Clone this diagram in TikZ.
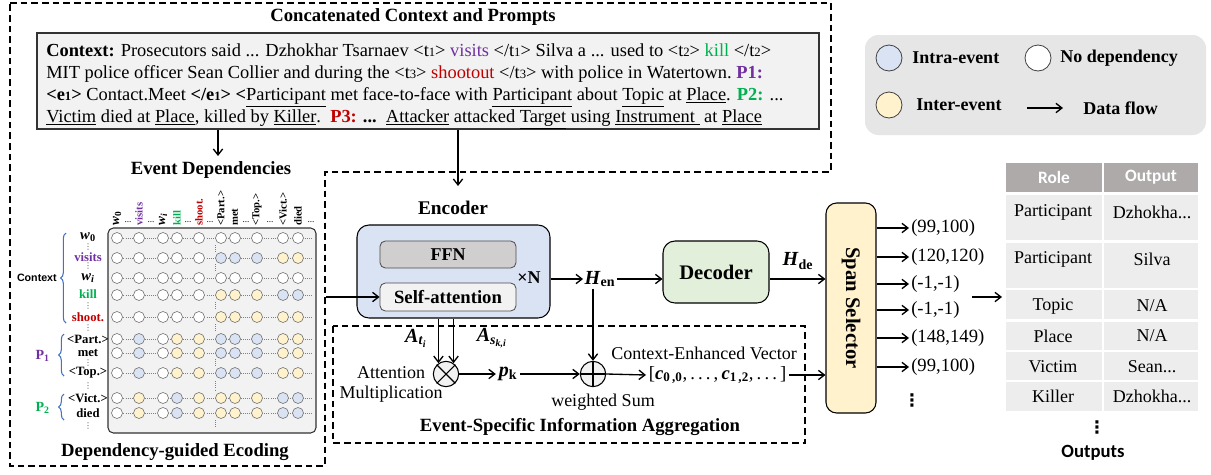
\documentclass[tikz,border=0pt]{standalone}
\usepackage{fontspec}
\setmainfont{Liberation Serif}
\newfontfamily\calib{Carlito}
\newfontfamily\arialf{Liberation Sans}
\newfontfamily\dejavu{DejaVu Sans}
\usetikzlibrary{arrows.meta,decorations.pathreplacing,calc}
\definecolor{cpurple}{HTML}{7030A0}
\definecolor{cgreen}{HTML}{00B050}
\definecolor{cred}{HTML}{C00000}
\definecolor{cbrace}{HTML}{4472C4}
\definecolor{cw}{HTML}{FFFFFF}
\definecolor{cb}{HTML}{DAE3F3}
\definecolor{cy}{HTML}{FFF2CC}
\definecolor{boxgray}{HTML}{F2F2F2}
\definecolor{leggray}{HTML}{E7E6E6}
\definecolor{ffngray}{HTML}{D0CECE}
\definecolor{encblue}{HTML}{DAE3F3}
\definecolor{decgreen}{HTML}{E2EFDA}
\definecolor{spanyel}{HTML}{FFF2CC}
\definecolor{thead}{HTML}{AEAAAA}
\definecolor{tcell}{HTML}{EDEDED}
\newcommand\fsz[1]{\fontsize{#1}{#1}\selectfont}
\newcommand\tg[2]{<#1{\fsz{9.5pt}#2}>}
\newcommand\bvar[2]{\textbf{\textit{#1}}\textsubscript{\textbf{#2}}}
\newcommand\tdots{...}
\newcommand\myvdots{{\dejavu ⋮}}
\begin{document}
\begin{tikzpicture}[x=0.75pt,y=-0.75pt,
  >={Straight Barb[length=4.5pt,width=7pt]},
  arr/.style={->,line width=1pt},
  dashbox/.style={dash pattern=on 5pt off 3pt,line width=1pt},
  dot/.style={circle,draw=black!55,line width=0.45pt,minimum size=8.25pt,inner sep=0pt},
  lgc/.style={circle,draw=black!75,line width=0.6pt,minimum size=19.5pt,inner sep=0pt},
  ttl/.style={inner sep=0pt,font=\bfseries\fsz{14pt}},
  ctxline/.style={anchor=base west,inner sep=0pt,font=\fsz{13.8pt}},
  coll/.style={rotate=90,anchor=west,inner sep=0pt,font=\bfseries\fsz{8pt}},
  rowl/.style={inner sep=0pt,font=\bfseries\fsz{9.5pt}},
  vd/.style={inner sep=0pt,font=\fsz{6pt},text=black!70},
  hd/.style={inner sep=0pt,font=\fsz{7pt}},
  brc/.style={decorate,decoration={brace,amplitude=4pt},draw=cbrace,line width=0.8pt},
  lgt/.style={anchor=west,inner sep=0pt,font=\bfseries\fsz{13.5pt}},
  outn/.style={anchor=west,inner sep=1.5pt,font=\fsz{14pt}},
  cell/.style={fill=tcell,inner sep=0pt},
  hcell/.style={fill=thead,inner sep=0pt,text=white,font=\calib\bfseries\fsz{13pt}},
  tt/.style={inner sep=0pt,font=\fsz{13.5pt}},
  opc/.style={circle,draw=black,line width=0.8pt,fill=boxgray,minimum size=19pt,inner sep=0pt}
]
\useasboundingbox (0,0) rectangle (1211,475);

% ---------- outer dashed outline ----------
\draw[dashbox] (10,3) -- (831,3) -- (831,172) -- (325,172) -- (325,466) -- (10,466) -- cycle;

% ---------- context box ----------
\node[ttl] (t1) at (413,17) {Concatenated Context and Prompts};
\node[draw=black!80,line width=0.8pt,fill=boxgray,minimum width=586.5pt,minimum height=72pt,inner sep=0pt] (ctx) at (428,81) {};
\node[ctxline] (l1) at (46,56) {\textbf{Context:} Prosecutors said ... Dzhokhar Tsarnaev \tg{t}{1} \textcolor{cpurple}{visits} \tg{/t}{1} Silva a ... used to \tg{t}{2} \textcolor{cgreen}{kill} \tg{/t}{2}};
\node[ctxline] (l2) at (46,78) {MIT police officer Sean Collier and during the \tg{t}{3} \textcolor{cred}{shootout} \tg{/t}{3} with police in Watertown.\ \textcolor{cpurple}{\textbf{P1:}}};
\node[ctxline] (l3) at (46,100) {\textbf{\tg{e}{1}} Contact.Meet \textbf{\tg{/e}{1}} \textbf{<}\underline{Participant} met face-to-face with \underline{Participant} about \underline{Topic} at \underline{Place}. \textcolor{cgreen}{\textbf{P2:}} ...};
\node[ctxline] (l4) at (46,122) {\underline{Victim} died at \underline{Place}, killed by \underline{Killer}.\ \ \textcolor{cred}{\textbf{P3:}} \textbf{...}\ \ \underline{Attacker} attacked \underline{Target} using \underline{Instrument\ } at \underline{Place}};

\coordinate (c1) at (218,156);
\coordinate (c2) at (458,186);
\draw[arr] (ctx.south -| c1) -- (c1);
\draw[arr] (ctx.south -| c2) -- (c2);

% ---------- legend ----------
\node[fill=leggray,rounded corners=10pt,minimum width=255.75pt,minimum height=75pt,inner sep=0pt] (leg) at (1035.5,85) {};
\node[lgc,fill=cb] (lg1) at (889,58) {};
\node[lgt] (lg1t) at (912,58) {Intra-event};
\node[lgc,fill=cw] (lg2) at (1038,58) {};
\node[lgt] (lg2t) at (1060,58) {No dependency};
\node[lgc,fill=cy] (lg3) at (889,105) {};
\node[lgt] (lg3t) at (916,105) {Inter-event};
\coordinate (la) at (1027,108);
\coordinate (lb) at (1063,108);
\draw[arr] (la) -- (lb);
\node[lgt] (lg4t) at (1083,108) {Data flow};

% ---------- event dependencies ----------
\node[ttl] (t2) at (211,170) {Event Dependencies};
\node[ttl] (t3) at (175,452) {Dependency-guided Ecoding};
\node[draw=black!80,line width=0.8pt,fill=boxgray,rounded corners=4pt,minimum width=156pt,minimum height=153.75pt,inner sep=0pt] (mat) at (212,330.5) {};

% column labels
\node[coll,font=\bfseries\fsz{10pt}] (cl1) at (117,226) {\textit{w}\textsubscript{0}};
\node[coll,text=cpurple] (cl2) at (139,226) {visits};
\node[coll,font=\bfseries\fsz{10pt}] (cl3) at (163,226) {\textit{w}\textsubscript{\textit{i}}};
\node[coll,text=cgreen] (cl4) at (177,226) {kill};
\node[coll,text=cred] (cl5) at (199,226) {shoot.};
\node[coll] (cl6) at (221,226) {<Part.>};
\node[coll] (cl7) at (235,226) {met};
\node[coll] (cl8) at (257,226) {<Top.>};
\node[coll] (cl9) at (283,226) {<Vict.>};
\node[coll] (cl10) at (298,226) {died};
\foreach \xx [count=\k] in {128,151,188,210,246,270,311}
  \node[hd] (hd\k) at (\xx,222) {\tdots};

% row labels
\node[rowl,font=\bfseries\fsz{11pt}] (rl1) at (88,237) {\textit{w}\textsubscript{0}};
\node[rowl,text=cpurple] (rl2) at (88,257) {visits};
\node[rowl,font=\bfseries\fsz{11pt}] (rl3) at (88,278) {\textit{w}\textsubscript{\textit{i}}};
\node[rowl,text=cgreen] (rl4) at (88,294) {kill};
\node[rowl,text=cred] (rl5) at (88,317) {shoot.};
\node[rowl] (rl6) at (88,339) {<Part.>};
\node[rowl] (rl7) at (88,353) {met};
\node[rowl] (rl8) at (88,373) {<Top.>};
\node[rowl] (rl9) at (88,398) {<Vict.>};
\node[rowl] (rl10) at (88,413) {died};
\foreach \yy [count=\k] in {247,266,306,328,363,386,426}
  \node[vd] (rv\k) at (88,\yy) {\myvdots};

% braces
\draw[brc] (66,323) -- (66,233);
\node[anchor=east,inner sep=0pt,font=\arialf\bfseries\fsz{8pt}] (bctx) at (57,278) {Context};
\draw[brc] (64,376) -- (64,334);
\node[anchor=east,inner sep=0pt,font=\bfseries\fsz{10.5pt},text=cpurple] (bp1) at (50,356) {P\textsubscript{1}};
\draw[brc] (64,420) -- (64,394);
\node[anchor=east,inner sep=0pt,font=\bfseries\fsz{10.5pt},text=cgreen] (bp2) at (50,408) {P\textsubscript{2}};

% separator
\foreach \ya/\yb in {245/252,264/272,302/310,324/332,359/367,381/391,420/428}
  \draw[densely dotted,black!50,line width=0.6pt] (215,\ya) -- (215,\yb);

% circles
\foreach \yy/\pat [count=\r] in {
 238/{cw,cw,cw,cw,cw,cw,cw,cw,cw,cw},
 258/{cw,cw,cw,cw,cw,cb,cb,cb,cy,cy},
 278/{cw,cw,cw,cw,cw,cw,cw,cw,cw,cw},
 295/{cw,cw,cw,cw,cw,cy,cy,cy,cb,cb},
 317/{cw,cw,cw,cw,cw,cy,cy,cy,cy,cy},
 339/{cw,cb,cw,cy,cy,cb,cb,cb,cy,cy},
 353/{cw,cb,cw,cy,cy,cb,cb,cb,cy,cy},
 373/{cw,cb,cw,cy,cy,cb,cb,cb,cy,cy},
 398/{cw,cy,cw,cb,cy,cy,cy,cy,cb,cb},
 413/{cw,cy,cw,cb,cy,cy,cy,cy,cb,cb}}
{
  \draw[densely dotted,black!50,line width=0.6pt] (117,\yy) -- (313,\yy);
  \foreach \cc [count=\k] in \pat {
    \pgfmathsetmacro\xx{{117,139,163,177,199,221,235,257,283,298}[\k-1]}
    \node[dot,fill=\cc] (m\r-\k) at (\xx,\yy) {};
  }
}

% ---------- encoder ----------
\node[font=\bfseries\fsz{14.5pt},inner sep=0pt] (t4) at (453,208) {Encoder};
\node[draw=black,line width=0.8pt,fill=encblue,rounded corners=9pt,minimum width=144.75pt,minimum height=69.75pt,inner sep=0pt] (enc) at (453.5,271.5) {};
\node[draw=black!70,line width=0.6pt,fill=ffngray,rounded corners=4pt,minimum width=102pt,minimum height=20.25pt,inner sep=0pt,font=\bfseries\fsz{13.5pt}] (ffn) at (448,254.5) {FFN};
\node[draw=black!70,line width=0.6pt,fill=boxgray,rounded corners=4pt,minimum width=102pt,minimum height=21pt,inner sep=0pt,font=\bfseries\fsz{14pt}] (sa) at (448,297) {Self-attention};
\node[inner sep=0pt,font=\bfseries\fsz{13.5pt}] (xn) at (529,278) {×N};
\coordinate (sin) at (326,297);
\draw[arr] (sin) -- (sa.west);

\node[inner sep=1pt,font=\fsz{15pt}] (hen) at (600,279) {\bvar{H}{en}};
\draw[arr] (hen.west -| enc.east) -- (hen.west);

% ---------- decoder & span selector ----------
\node[draw=black,line width=0.8pt,fill=decgreen,rounded corners=9pt,minimum width=79.5pt,minimum height=46.5pt,inner sep=0pt,font=\bfseries\fsz{15.5pt}] (dec) at (716,272) {Decoder};
\draw[arr] (hen.east) -- (dec.west |- hen);
\node[inner sep=0pt,font=\fsz{15pt}] (hde) at (798,261) {\bvar{H}{de}};
\node[draw=black,line width=0.8pt,fill=spanyel,rounded corners=8pt,minimum width=37.5pt,minimum height=157.5pt,inner sep=0pt] (span) at (851,308) {};
\node[rotate=-90,inner sep=0pt,font=\bfseries\fsz{15.5pt}] (spant) at (851,308) {Span Selector};
\draw[arr] (dec.east |- hen) -- (span.west |- hen);

\foreach \yy/\txt [count=\k] in {228/{(99,100)},257/{(120,120)},284/{(-1,-1)},310/{(-1,-1)},338/{(148,149)},367/{(99,100)}} {
  \node[outn] (o\k) at (909,\yy) {\txt};
  \draw[arr] (span.east |- o\k) -- (o\k.west);
}
\node[inner sep=0pt,font=\bfseries\fsz{13pt}] (ovd) at (912,400) {\myvdots};

% ---------- aggregation ----------
\draw[dashbox] (333,326) rectangle (805,443);
\node[font=\bfseries\fsz{14pt},inner sep=0pt] (t5) at (580,427) {Event-Specific Information Aggregation};
\node[opc] (ot) at (446,374) {};
\draw[line width=0.8pt] (ot.north west) -- (ot.south east) (ot.north east) -- (ot.south west);
\node[opc] (op) at (593,374) {};
\draw[line width=0.8pt] (op.north) -- (op.south) (op.west) -- (op.east);
\draw[arr] (ot.125 |- enc.south) -- (ot.125);
\draw[arr] (ot.55 |- enc.south) -- (ot.55);
\node[inner sep=0pt,font=\fsz{15pt}] (at) at (416,338) {\textbf{\textit{A}}\textsubscript{\textbf{\textit{t}}\textsubscript{\textbf{\textit{i}}}}};
\node[inner sep=0pt,font=\fsz{15pt}] (as) at (492,338) {\textbf{\textit{A}}\textsubscript{\textbf{\textit{s}}\textsubscript{\textbf{\textit{k,i}}}}};
\node[inner sep=0pt,font=\fsz{13.5pt}] (att1) at (391,373) {Attention};
\node[inner sep=0pt,font=\fsz{13.5pt}] (att2) at (391,394) {Multiplication};
\node[inner sep=2pt,font=\fsz{15pt}] (pk) at (508,374) {\bvar{p}{k}};
\draw[arr] (ot.east) -- (pk.west);
\draw[arr] (pk.east) -- (op.west);
\draw[arr] (hen.south -| op.north) -- (op.north);
\node[inner sep=0pt,font=\fsz{13.5pt}] (ws) at (603,402) {weighted Sum};
\node[inner sep=0pt,font=\fsz{13.5pt}] (cev) at (704,353) {Context-Enhanced Vector};
\node[inner sep=2pt,anchor=west,font=\fsz{14pt}] (vec) at (646,375) {[\bvar{c}{0\,,0},\,.\,.\,.\,,\,\bvar{c}{1\,,2},\,.\,.\,.\,]};
\draw[arr] (op.east) -- (vec.west);
\draw[arr] (vec.east) -- (span.west |- vec);

% ---------- table ----------
\coordinate (ta) at (972,297);
\coordinate (tb) at (1002,297);
\draw[arr] (ta) -- (tb);
\node[hcell,minimum width=72pt,minimum height=21.75pt] (h1) at (1054,177.5) {Role};
\node[hcell,minimum width=70.5pt,minimum height=21.75pt] (h2) at (1151,177.5) {Output};
\foreach \yc/\hh [count=\k] in {217.5/33.75,265.5/33.75,304.5/21.75,336/21,366/21,396.5/21.75} {
  \node[cell,minimum width=72pt,minimum height=\hh pt] (ra\k) at (1054,\yc) {};
  \node[cell,minimum width=70.5pt,minimum height=\hh pt] (rb\k) at (1151,\yc) {};
}
\foreach \yy/\ta/\tb [count=\k] in {212/Participant/Dzhokha\tdots,259/Participant/Silva,306/Topic/N\slash A,336/Place/N\slash A,367/Victim/Sean\tdots,396/Killer/Dzhokha\tdots} {
  \node[tt] (xa\k) at (1053,\yy) {\ta};
  \node[tt] (xb\k) at (1152,\yy) {\tb};
}
\node[inner sep=0pt,font=\bfseries\fsz{13pt}] (tvd) at (1097,427) {\myvdots};
\node[inner sep=0pt,font=\calib\bfseries\fsz{14pt}] (outs) at (1093,453) {Outputs};
\end{tikzpicture}
\end{document}
